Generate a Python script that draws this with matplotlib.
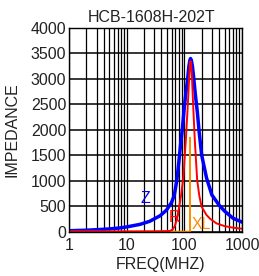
import matplotlib
matplotlib.use("Agg")
import matplotlib.pyplot as plt
from matplotlib.ticker import FixedLocator, NullFormatter

plt.rcParams['font.family'] = ['Liberation Sans', 'DejaVu Sans']

title = "HCB-1608H-202T"
x_label = "FREQ(MHZ)"
y_label = "IMPEDANCE"

x_ticks = [1, 10, 100, 1000]
x_tick_labels = ["1", "10", "100", "1000"]
y_ticks = [0, 500, 1000, 1500, 2000, 2500, 3000, 3500, 4000]

z_freq = [1, 2, 3.5, 5, 7.6, 10, 17, 25, 38, 49, 60, 67, 74, 80, 86, 93, 100,
          107, 114, 120, 125, 128, 132, 138, 146, 155, 168, 181, 200, 243,
          300, 400, 500, 700, 1000]
z_vals = [15, 25, 40, 50, 70, 90, 140, 200, 310, 420, 570, 715, 1000, 1350,
          1700, 2050, 2450, 2750, 3000, 3250, 3370, 3400, 3370, 3250, 3000,
          2700, 2350, 1950, 1500, 1050, 720, 520, 400, 260, 185]

r_freq = [1, 10, 30, 50, 56, 62, 68, 75, 81, 88, 96, 106, 115, 121, 125, 128,
          132, 136, 142, 152, 167, 182, 199, 240, 280, 360, 500, 700, 1000]
r_vals = [0, 2, 4, 8, 12, 35, 100, 260, 470, 720, 1050, 1790, 2500, 3000,
          3280, 3350, 3250, 3000, 2500, 1790, 1010, 700, 490, 330, 250, 160,
          105, 75, 55]

xl_freq = [1, 124, 125, 126]
xl_vals = [0, 0, 1850, 0]

fig = plt.figure(figsize=(2.59, 2.76), dpi=100)
ax = fig.add_axes([69/259, 1-231.5/276, 173/259, 203.5/276])

ax.plot(z_freq, z_vals, color='#0000ff', lw=2.5, zorder=3)
ax.plot(xl_freq, xl_vals, color='#ff8c00', lw=1.1, zorder=4)
ax.plot(r_freq, r_vals, color='#ff0000', lw=1.4, zorder=5)

ax.set_xscale('log')
ax.set_xlim(1, 1000)
ax.set_ylim(0, 4000)

ax.xaxis.set_major_locator(FixedLocator(x_ticks))
ax.set_xticklabels(x_tick_labels)
minor = [m * d for d in (1, 10, 100) for m in range(2, 10)]
ax.xaxis.set_minor_locator(FixedLocator(minor))
ax.xaxis.set_minor_formatter(NullFormatter())
ax.set_yticks(y_ticks)

ax.tick_params(axis='both', which='both', length=0, labelsize=11.5, colors='#222222')
ax.tick_params(axis='x', pad=4.5)
ax.tick_params(axis='y', pad=2)

ax.grid(True, which='major', axis='y', color='black', lw=1.1, zorder=1)
ax.grid(True, which='both', axis='x', color='black', lw=0.9, zorder=1)
ax.set_axisbelow(True)
for s in ax.spines.values():
    s.set_color('black')
    s.set_linewidth(1.0)
    s.set_zorder(6)

ax.text(20.8, 640, "Z", color='#0000ff', fontsize=11.5, ha='center', va='center', zorder=7)
ax.text(68, 275, "R", color='#ff0000', fontsize=11.5, ha='center', va='center', zorder=7)
ax.text(197, 140, "XL", color='#ff8c00', fontsize=11.5, ha='center', va='center', zorder=7)

fig.text(152/259, 1-17/276, title, ha='center', va='center', fontsize=11.5, color='#222222')
fig.text(160.5/259, 1-264/276, x_label, ha='center', va='center', fontsize=11.5, color='#222222')
fig.text(12.5/259, 1-130/276, y_label, ha='center', va='center', rotation=90, fontsize=11.5, color='#222222')

fig.savefig("out.png", dpi=100)
